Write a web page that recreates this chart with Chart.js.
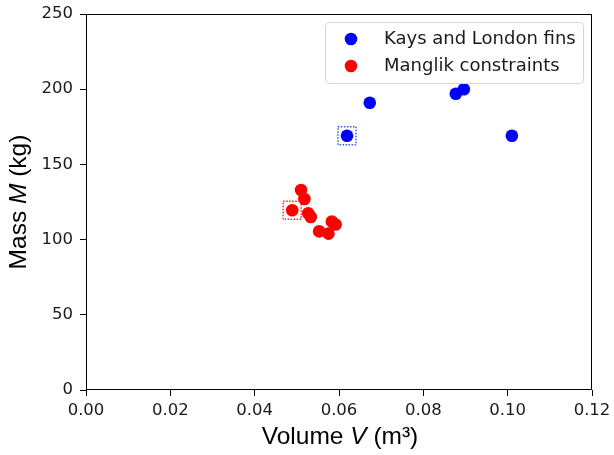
<!DOCTYPE html>
<html>
<head>
<meta charset="utf-8">
<script src="https://cdn.jsdelivr.net/npm/chart.js@4"></script>
<style>
  html, body { margin: 0; padding: 0; background: #fff; }
  #wrap { width: 614px; height: 455px; }
</style>
</head>
<body>
<div id="wrap"><canvas id="massVolume"></canvas></div>
<script>
// Kays and London fins: volume (m^3) vs mass (kg)
var kaysVolume = [0.0619, 0.0673, 0.0877, 0.0896, 0.1010];
var kaysMass = [169, 191, 197, 200, 169];

// Manglik constraints
var manglikVolume = [0.0489, 0.0510, 0.0518, 0.0527, 0.0533, 0.0553, 0.0575, 0.0583, 0.0592];
var manglikMass = [119.5, 133, 127, 117.5, 115, 105.5, 104, 112, 110];

// points highlighted with a dotted square (index into each series)
var kaysBoxed = 0;
var manglikBoxed = 0;

var xTicks = [0, 0.02, 0.04, 0.06, 0.08, 0.10, 0.12];
var yTicks = [0, 50, 100, 150, 200, 250];

var FONT = "'DejaVu Sans', sans-serif";
var TITLE_FONT = "'Liberation Sans', Arial, sans-serif";

function toPoints(xs, ys) {
  return xs.map(function (x, i) { return { x: x, y: ys[i] }; });
}

// dotted squares around the selected designs
var boxPlugin = {
  id: 'boxes',
  afterDatasetsDraw: function (chart) {
    var c = chart.ctx, sx = chart.scales.x, sy = chart.scales.y;
    var marks = [
      { x: kaysVolume[kaysBoxed], y: kaysMass[kaysBoxed], color: '#3a5fd9' },
      { x: manglikVolume[manglikBoxed], y: manglikMass[manglikBoxed], color: '#ff2020' }
    ];
    c.save();
    c.lineWidth = 1.5;
    c.setLineDash([1.5, 1.5]);
    marks.forEach(function (m) {
      var px = sx.getPixelForValue(m.x), py = sy.getPixelForValue(m.y);
      c.strokeStyle = m.color;
      c.strokeRect(px - 9, py - 9, 18, 18);
    });
    c.restore();
  }
};

// frame, axis titles with italic symbols, legend box
var decorPlugin = {
  id: 'decor',
  afterDraw: function (chart) {
    var c = chart.ctx, a = chart.chartArea;
    c.save();
    c.strokeStyle = '#000';
    c.lineWidth = 1;
    c.strokeRect(Math.round(a.left) + 0.5, Math.round(a.top) + 0.5,
                 Math.round(a.right - a.left) - 1, Math.round(a.bottom - a.top) - 1);

    function mixed(parts, cx, cy) {
      var w = 0;
      parts.forEach(function (p) { c.font = p[1] + '24.5px ' + TITLE_FONT; w += c.measureText(p[0]).width; });
      var x = cx - w / 2;
      c.textBaseline = 'middle';
      c.textAlign = 'left';
      c.fillStyle = '#000';
      parts.forEach(function (p) {
        c.font = p[1] + '24.5px ' + TITLE_FONT;
        c.fillText(p[0], x, cy);
        x += c.measureText(p[0]).width;
      });
    }
    mixed([['Volume ', ''], ['V', 'italic '], [' (m³)', '']], (a.left + a.right) / 2 + 1, 437);
    c.save();
    c.translate(19, (a.top + a.bottom) / 2);
    c.rotate(-Math.PI / 2);
    mixed([['Mass ', ''], ['M', 'italic '], [' (kg)', '']], 0, 0);
    c.restore();

    // legend
    var lx = 325, ly = 22, lw = 258, lh = 61;
    c.beginPath();
    c.roundRect(lx + 0.5, ly + 0.5, lw, lh, 4);
    c.fillStyle = 'rgba(255,255,255,0.85)';
    c.fill();
    c.strokeStyle = '#d6d6d6';
    c.stroke();
    chart.data.datasets.forEach(function (ds, i) {
      var y = ly + 17 + i * 27;
      c.beginPath();
      c.arc(lx + 26, y, 6.3, 0, Math.PI * 2);
      c.fillStyle = ds.backgroundColor;
      c.fill();
      c.fillStyle = '#1a1a1a';
      c.font = '18px ' + FONT;
      c.textAlign = 'left';
      c.textBaseline = 'middle';
      c.fillText(ds.label, lx + 59, y);
    });
    c.restore();
  }
};

new Chart(document.getElementById('massVolume').getContext('2d'), {
  type: 'scatter',
  data: {
    datasets: [{
      label: 'Kays and London fins',
      data: toPoints(kaysVolume, kaysMass),
      backgroundColor: '#0000ff',
      borderColor: '#0000ff',
      borderWidth: 0,
      pointRadius: 6.3
    }, {
      label: 'Manglik constraints',
      data: toPoints(manglikVolume, manglikMass),
      backgroundColor: '#ff0000',
      borderColor: '#ff0000',
      borderWidth: 0,
      pointRadius: 6.3
    }]
  },
  options: {
    responsive: true,
    maintainAspectRatio: false,
    animation: false,
    layout: { padding: { left: 0, top: 14, right: 22, bottom: 0 } },
    plugins: { legend: { display: false }, tooltip: { enabled: false } },
    scales: {
      x: {
        type: 'linear',
        min: 0, max: 0.12,
        afterBuildTicks: function (axis) { axis.ticks = xTicks.map(function (v) { return { value: v }; }); },
        afterFit: function (axis) {
          axis.height = 65;
          axis.paddingLeft = 0;
          axis.paddingRight = 0;
        },
        ticks: {
          color: '#1a1a1a', padding: 5,
          font: { family: FONT, size: 16.5 },
          callback: function (v) { return v.toFixed(2); },
          maxRotation: 0
        },
        grid: { drawOnChartArea: false, drawTicks: true, tickLength: 6, color: '#000' },
        border: { display: false }
      },
      y: {
        min: 0, max: 250,
        afterBuildTicks: function (axis) { axis.ticks = yTicks.map(function (v) { return { value: v }; }); },
        afterFit: function (axis) {
          axis.width = 86;
          axis.paddingTop = 0;
          axis.paddingBottom = 0;
        },
        ticks: { color: '#1a1a1a', padding: 7, font: { family: FONT, size: 16.5 } },
        grid: { drawOnChartArea: false, drawTicks: true, tickLength: 6, color: '#000' },
        border: { display: false }
      }
    }
  },
  plugins: [boxPlugin, decorPlugin]
});
</script>
</body>
</html>
